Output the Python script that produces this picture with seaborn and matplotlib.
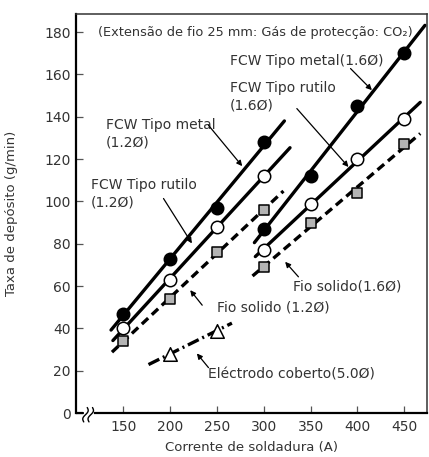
import numpy as np
import matplotlib
matplotlib.use("Agg")
import matplotlib.pyplot as plt
import seaborn as sns

# deposition rate (g/min) vs welding current (A)
current_12 = [150, 200, 250, 300]
metal_12 = [47, 73, 97, 128]
rutilo_12 = [40, 63, 88, 112]
solido_12 = [34, 54, 76, 96]

current_16 = [300, 350, 400, 450]
metal_16 = [87, 112, 145, 170]
rutilo_16 = [77, 99, 120, 139]
solido_16 = [69, 90, 104, 127]

current_el = [200, 250]
eletrodo = [28, 39]

# current range covered by each straight line
span_metal_12 = [137, 322]
span_rutilo_12 = [139, 328]
span_solido_12 = [138, 321]
span_metal_16 = [290, 472]
span_rutilo_16 = [291, 467]
span_solido_16 = [288, 467]
span_eletrodo = [177, 266]

x_ticks = [150, 200, 250, 300, 350, 400, 450]
y_ticks = [0, 20, 40, 60, 80, 100, 120, 140, 160, 180]

sns.set_style("ticks")
plt.rcParams["font.family"] = ["DejaVu Sans"]
txt = "#333333"

fig = plt.figure(figsize=(4.29, 4.57), dpi=100)
ax = fig.add_axes([0.178, 0.096, 0.818, 0.873])


def fit_line(xs, ys, span, ls):
    k, b = np.polyfit(xs, ys, 1)
    xl = np.array(span, dtype=float)
    sns.lineplot(x=xl, y=k * xl + b, color="black", lw=2.4, linestyle=ls,
                 ax=ax, zorder=2)


def marks(xs, ys, marker, face, s):
    sns.scatterplot(x=xs, y=ys, marker=marker, s=s, color=face,
                    edgecolor="black", linewidth=1.1, ax=ax, zorder=3)


dash = (0, (2.6, 1.5))
dashdot = (0, (3.6, 1.2, 0.6, 1.2))

fit_line(current_12, metal_12, span_metal_12, "-")
fit_line(current_12, rutilo_12, span_rutilo_12, "-")
fit_line(current_12, solido_12, span_solido_12, dash)
fit_line(current_16, metal_16, span_metal_16, "-")
fit_line(current_16, rutilo_16, span_rutilo_16, "-")
fit_line(current_16, solido_16, span_solido_16, dash)
fit_line(current_el, eletrodo, span_eletrodo, dashdot)

marks(current_12, metal_12, "o", "black", 80)
marks(current_12, rutilo_12, "o", "white", 80)
marks(current_12, solido_12, "s", "#b4b4b4", 55)
marks(current_16, metal_16, "o", "black", 80)
marks(current_16, rutilo_16, "o", "white", 80)
marks(current_16, solido_16, "s", "#b4b4b4", 55)
marks(current_el, eletrodo, "^", "white", 95)

# labels and pointer arrows
arrow = dict(arrowstyle="-|>", color="black", lw=0.9, mutation_scale=8,
             shrinkA=0, shrinkB=0)
tk = dict(color=txt, fontsize=10, linespacing=1.3, va="center", ha="left")

ax.text(131.8, 132, "FCW Tipo metal\n(1.2Ø)", **tk)
ax.annotate("", xy=(277, 116.7), xytext=(241, 136), arrowprops=arrow)
ax.text(115.5, 103.7, "FCW Tipo rutilo\n(1.2Ø)", **tk)
ax.annotate("", xy=(223.3, 80.2), xytext=(193, 101.4), arrowprops=arrow)
ax.text(250.3, 49.8, "Fio solido (1.2Ø)", **tk)
ax.annotate("", xy=(221.5, 58.1), xytext=(234.3, 51.0), arrowprops=arrow)
ax.text(264.1, 166.3, "FCW Tipo metal(1.6Ø)", **tk)
ax.annotate("", xy=(415.4, 152.6), xytext=(392.6, 162.8), arrowprops=arrow)
ax.text(264.1, 149.5, "FCW Tipo rutilo\n(1.6Ø)", **tk)
ax.annotate("", xy=(390.4, 116.3), xytext=(335.3, 143.9), arrowprops=arrow)
ax.text(331.7, 60.0, "Fio solido(1.6Ø)", **tk)
ax.annotate("", xy=(322.8, 71.5), xytext=(337, 64.4), arrowprops=arrow)
ax.text(241, 18.4, "Eléctrodo coberto(5.0Ø)", **tk)
ax.annotate("", xy=(228.6, 28.2), xytext=(241, 21.5), arrowprops=arrow)

ax.text(123.3, 180, "(Extensão de fio 25 mm: Gás de protecção: CO₂)",
        color=txt, fontsize=9.3, va="center", ha="left")

ax.set_xlim(100, 474.5)
ax.set_ylim(0, 188.5)
ax.set_xticks(x_ticks)
ax.set_yticks(y_ticks)
ax.tick_params(axis="both", direction="in", length=5, width=0.9,
               labelsize=10, labelcolor=txt, color="#555555")
ax.tick_params(axis="y", pad=4)
ax.tick_params(axis="x", pad=5)
ax.set_xlabel("Corrente de soldadura (A)", fontsize=9.5, color=txt)
ax.set_ylabel("Taxa de depósito (g/min)", fontsize=9.5, color=txt)
ax.xaxis.set_label_coords(0.5, -0.07)
ax.yaxis.set_label_coords(-0.166, 0.5)

for side in ["top", "right"]:
    ax.spines[side].set_linewidth(1.1)
    ax.spines[side].set_color("#333333")
for side in ["left", "bottom"]:
    ax.spines[side].set_linewidth(1.6)
    ax.spines[side].set_color("black")

# broken x axis near the origin
ax.spines["bottom"].set_bounds(120, 474.5)
ax.plot([100, 107.5], [0, 0], color="black", lw=1.6, clip_on=False, zorder=4)
t = np.linspace(0, 1, 30)
for xc in [0.026, 0.041]:
    sx = xc + 0.010 * (0.5 - t) + 0.005 * np.sin(2 * np.pi * t)
    sy = -0.004 + 0.036 * (0.5 - t)
    ax.plot(sx, sy, color="black", lw=1.0, transform=ax.transAxes,
            clip_on=False, zorder=4)

fig.savefig("out.png", dpi=100)
